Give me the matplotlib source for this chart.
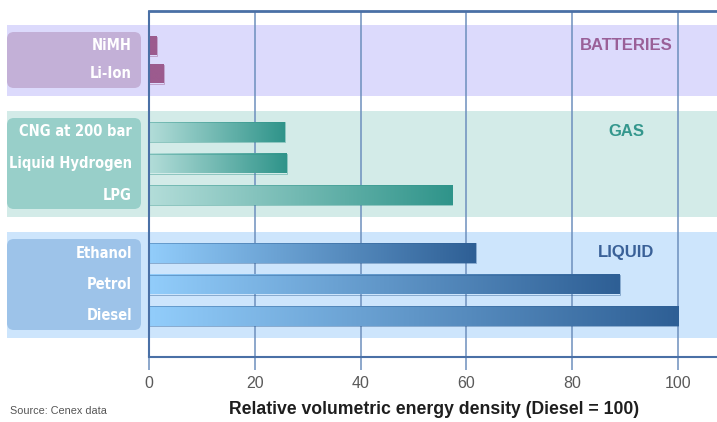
"""
Relative volumetric energy density of fuels and batteries (Diesel = 100)
"""

import matplotlib
matplotlib.use('Agg')
import matplotlib.pyplot as plt
import numpy as np
from matplotlib.colors import LinearSegmentedColormap
from matplotlib.patches import FancyBboxPatch, Rectangle

# data
groups      = ['BATTERIES', 'GAS', 'LIQUID']
group_items = [['NiMH', 'Li-Ion'],
               ['CNG at 200 bar', 'Liquid Hydrogen', 'LPG'],
               ['Ethanol', 'Petrol', 'Diesel']]
group_vals  = [[1.5, 2.8],
               [25.7, 26.0, 57.3],
               [61.8, 89.0, 100.0]]
ticks = [0, 20, 40, 60, 80, 100]

# styles per group
band_col  = ['#dcdafc', '#d3ebe8', '#cde5fc']
box_col   = ['#c3b0d7', '#98cfc9', '#9dc3e9']
title_col = ['#9a6098', '#34978d', '#3a6198']
bar_light = ['#9c5b8e', '#b3ddd9', '#92cdfb']
bar_dark  = ['#9c5b8e', '#2f948a', '#2e5f95']
pitch     = [28, 31.5, 31.5]

W, H = 717, 422
fig = plt.figure(figsize=(W / 100, H / 100), dpi=100)

px = 5.29                      # pixels per x unit
x0_px, top_px, bot_px = 149, 11, 357
xmin = -(x0_px - 7) / px
xmax = (W - x0_px) / px
ax = fig.add_axes([7 / W, (H - bot_px) / H, (W - 7) / W, (bot_px - top_px) / H])
ax.set_xlim(xmin, xmax)
ax.set_ylim(bot_px - top_px, 0)
for s in ax.spines.values():
    s.set_visible(False)

label_font = dict(family=['DejaVu Sans'], stretch='condensed',
                  weight='bold', color='white', fontsize=10.5)

y = 14
for g, name in enumerate(groups):
    n = len(group_items[g])
    centers = [y + 21 + i * pitch[g] for i in range(n)]
    top, bottom = y, centers[-1] + 22
    ax.add_patch(Rectangle((xmin, top), xmax - xmin, bottom - top,
                           facecolor=band_col[g], edgecolor='none', zorder=0))
    ax.add_patch(FancyBboxPatch((xmin, top + 7), (141 - 7) / px, bottom - top - 15,
                                boxstyle='round,pad=0,rounding_size=1.3',
                                mutation_aspect=px,
                                facecolor=box_col[g], edgecolor='none', zorder=1))
    ax.text(90.2, centers[0] - 1, name, ha='center', va='center',
            fontsize=12, fontweight='bold', color=title_col[g],
            family='Liberation Sans', zorder=5)
    cmap = LinearSegmentedColormap.from_list('g%d' % g, [bar_light[g], bar_dark[g]])
    grad = np.linspace(0, 1, 256).reshape(1, -1)
    bh = 19 if g == 0 else 20
    for lab, val, c in zip(group_items[g], group_vals[g], centers):
        ax.imshow(grad, cmap=cmap, aspect='auto', interpolation='bilinear',
                  extent=(0, val, c + bh / 2, c - bh / 2), zorder=4)
        ax.add_patch(Rectangle((0, c - bh / 2), val, bh, facecolor='none',
                               edgecolor=bar_dark[g], linewidth=0.6,
                               alpha=0.5, zorder=4.5))
        ax.text(-3.2, c, lab, ha='right', va='center', zorder=5, **label_font)
    y = bottom + 15

ax.set_xlim(xmin, xmax)
ax.set_ylim(bot_px - top_px, 0)

# grid and frame
for t in ticks[1:]:
    ax.axvline(t, color='#6d8fbd', linewidth=1.1, zorder=3)
ax.axvline(0, color='#4a70a6', linewidth=1.5, zorder=6)
ax.plot([0, xmax], [0, 0], color='#4a70a6', linewidth=2, zorder=6, clip_on=False)
ax.plot([0, xmax], [bot_px - top_px, bot_px - top_px], color='#4a70a6',
        linewidth=1.5, zorder=6, clip_on=False)

ax.set_yticks([])
ax.set_xticks(ticks)
ax.set_xticklabels([str(t) for t in ticks])
ax.tick_params(axis='x', direction='out', length=9, width=1.1,
               color='#6d8fbd', labelcolor='#5a5a5a', labelsize=11.5, pad=5)
for lbl in ax.get_xticklabels():
    lbl.set_family('Liberation Sans')

fig.text(434 / W, 1 - 410 / H, 'Relative volumetric energy density (Diesel = 100)',
         ha='center', va='center', fontsize=12.7, fontweight='bold',
         color='#1e1e1e', family='Liberation Sans')
fig.text(10 / W, 1 - 411 / H, 'Source: Cenex data', ha='left', va='center',
         fontsize=7.8, color='#555555', family='Liberation Sans')

fig.savefig('out.png', dpi=100)
